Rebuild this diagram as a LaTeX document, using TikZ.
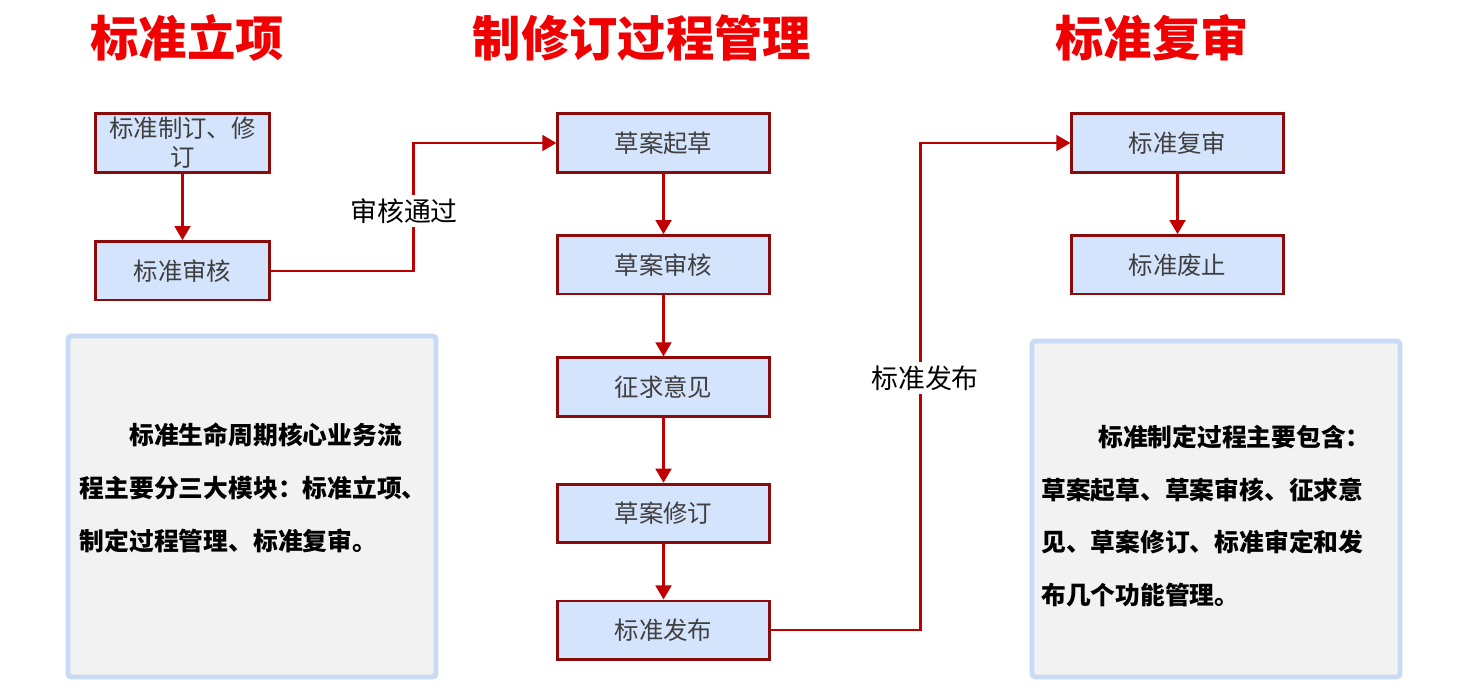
\documentclass[tikz,border=0pt]{standalone}
\usepackage{fontspec}
\setmainfont{Noto Sans CJK SC}
\definecolor{boxfill}{HTML}{D4E4FC}
\definecolor{boxline}{HTML}{8C0A0A}
\definecolor{flowred}{HTML}{C00000}
\definecolor{titlered}{HTML}{F00000}
\definecolor{notefill}{HTML}{F2F2F2}
\definecolor{noteline}{HTML}{C9DBF4}
\definecolor{boxtext}{HTML}{3F3F3F}
\usetikzlibrary{positioning, arrows.meta}

\begin{document}
\begin{tikzpicture}[x=0.02cm, y=-0.02cm,
    stage/.style={fill=boxfill, draw=boxline, line width=1.6pt,
      minimum height=1.17cm, text=boxtext, inner sep=1pt,
      font=\fontsize{13.9}{16.4}\selectfont, align=center},
    stagea/.style={stage, minimum width=3.47cm},
    stageb/.style={stage, minimum width=4.23cm},
    heading/.style={text=titlered, font=\fontsize{27.5}{30}\bfseries\selectfont},
    flow/.style={draw=flowred, line width=1.4pt, -{Triangle[width=9pt,length=8pt]}},
    flowlbl/.style={fill=white, inner sep=2pt, font=\fontsize{15.3}{17}\selectfont},
    note/.style={fill=notefill, draw=noteline, line width=2.8pt, rounded corners=2pt},
    notetext/.style={align=left, inner sep=0pt, font=\fontsize{14.1}{30}\bfseries\selectfont},
    node distance=1.21cm,
  ]
    \useasboundingbox (0,0) rectangle (1470,688);

    % titles
    \node[heading] (t1) at (187,38) {标准立项};
    \node[heading] (t2) at (642,38) {制修订过程管理};
    \node[heading] (t3) at (1152,38) {标准复审};

    % standard project
    \node[stagea] (a1) at (182.5,143) {标准制订、修\\订};
    \node[stagea, below=1.33cm of a1] (a2) {标准审核};

    % drafting process
    \node[stageb] (b1) at (663.5,143) {草案起草};
    \node[stageb, below=of b1] (b2) {草案审核};
    \node[stageb, below=1.22cm of b2] (b3) {征求意见};
    \node[stageb, below=1.30cm of b3] (b4) {草案修订};
    \node[stageb, below=1.11cm of b4] (b5) {标准发布};

    % review
    \node[stageb] (c1) at (1177.5,143) {标准复审};
    \node[stageb, below=of c1] (c2) {标准废止};

    \draw[flow] (a1) -- (a2);
    \draw[flow] (b1) -- (b2);
    \draw[flow] (b2) -- (b3);
    \draw[flow] (b3) -- (b4);
    \draw[flow] (b4) -- (b5);
    \draw[flow] (c1) -- (c2);
    \draw[flow] (a2.east) -- ++(143,0) |- (b1.west);
    \draw[flow] (b5.east) -- ++(150,0) |- (c1.west);
    \node[flowlbl] (passlbl) at (404,211) {审核通过};
    \node[flowlbl] (publbl) at (925,378) {标准发布};

    % notes
    \draw[note] (68,336) rectangle (436,677);
    \node[notetext] (n1) at (257,488) {\hspace*{2em}标准生命周期核心业务流\\
      程主要分三大模块：标准立项、\\
      制定过程管理、标准复审。\hspace*{2.3em}};
    \draw[note] (1032,341) rectangle (1400,677);
    \node[notetext] (n2) at (1206,516) {\hspace*{2.3em}标准制定过程主要包含：\\
      草案起草、草案审核、征求意\\
      见、草案修订、标准审定和发\\
      布几个功能管理。\hspace*{5em}};
  \end{tikzpicture}
\end{document}
